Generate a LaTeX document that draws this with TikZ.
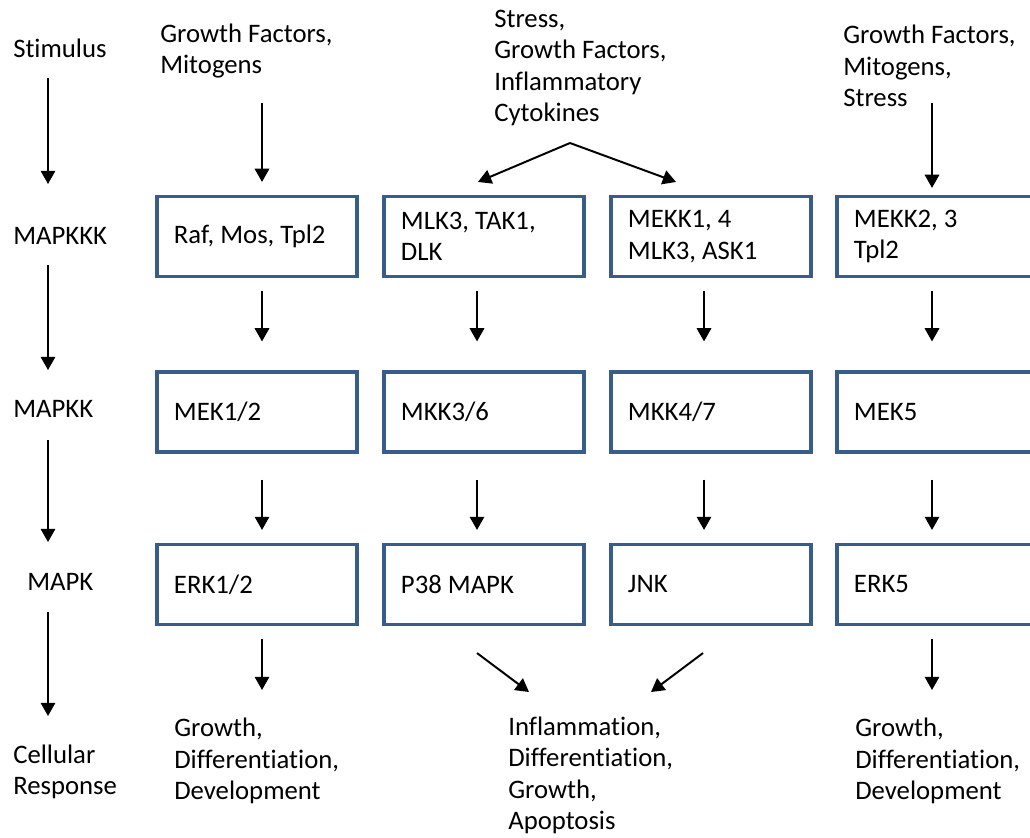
\documentclass[tikz,border=0pt]{standalone}
\usepackage{fontspec}
\setmainfont{Carlito}[Ligatures=NoCommon]
\usetikzlibrary{arrows.meta,calc}
\definecolor{boxblue}{RGB}{56,93,138}
\frenchspacing
\tikzset{
  txt/.style={font=\fontsize{19}{22.4}\selectfont, align=left, inner sep=0pt, anchor=west},
  kbox/.style={draw=boxblue, line width=2.2pt, minimum width=5cm, minimum height=2cm,
    text width=4.15cm, inner xsep=0.425cm, align=flush left, font=\fontsize{19}{22.4}\selectfont},
  arr/.style={-{Triangle[length=0.33cm,width=0.36cm]}, line width=1.4pt}
}
\begin{document}
\begin{tikzpicture}[x=0.025cm,y=-0.025cm]
\useasboundingbox (0,0) rectangle (1030,837);
% levels on the left
\node[txt] (stim) at (13,48) {Stimulus};
\node[txt] (kkk) at (13,236) {MAPKKK};
\node[txt] (kk) at (13,409) {MAPKK};
\node[txt] (k) at (27,582) {MAPK};
\node[txt] (resp) at (13,772) {Cellular\\Response};
\draw[arr] ($(stim.west)+(35,30)$) -- ($(kkk.west)+(35,-52)$);
\draw[arr] ($(kkk.west)+(35,29)$) -- ($(kk.west)+(35,-39)$);
\draw[arr] ($(kk.west)+(35,31)$) -- ($(k.west)+(21,-40)$);
\draw[arr] ($(k.west)+(21,30)$) -- ($(resp.west)+(35,-56)$);
% stimuli
\node[txt] (gfA) at (160,51) {Growth Factors,\\Mitogens};
\node[txt] (sgi) at (494,68) {Stress,\\Growth Factors,\\Inflammatory\\Cytokines};
\node[txt] (gfB) at (843,66) {Growth Factors,\\Mitogens,\\Stress};
% MAPKKK
\node[kbox] (raf) at (257,236.5) {Raf, Mos, Tpl2};
\node[kbox] (mlk) at (484,236.5) {MLK3, TAK1,\\DLK};
\node[kbox] (mekk) at (711,236.5) {MEKK1, 4\\MLK3, ASK1};
\node[kbox] (mekkb) at (937,236.5) {MEKK2, 3\\Tpl2};
% MAPKK
\node[kbox] (mek) at (257,412) {MEK1/2};
\node[kbox] (mkk36) at (484,412) {MKK3/6};
\node[kbox] (mkk47) at (711,412) {MKK4/7};
\node[kbox] (mek5) at (937,412) {MEK5};
% MAPK
\node[kbox] (erk) at (257,584.5) {ERK1/2};
\node[kbox] (p38) at (484,584.5) {P38 MAPK};
\node[kbox] (jnk) at (711,584.5) {JNK};
\node[kbox] (erk5) at (937,584.5) {ERK5};
% responses
\node[txt] (grA) at (174,761) {Growth,\\Differentiation,\\Development};
\node[txt] (infl) at (508,775.5) {Inflammation,\\Differentiation,\\Growth,\\Apoptosis};
\node[txt] (grB) at (855,761) {Growth,\\Differentiation,\\Development};
% stimulus to MAPKKK
\draw[arr] ($(gfA.west)+(102,52)$) -- ($(raf.north)+(5,-13)$);
\draw[arr] ($(sgi.west)+(76,75)$) -- ($(mlk.north)+(-6,-13)$);
\draw[arr] ($(sgi.west)+(76,75)$) -- ($(mekk.north)+(-35,-13)$);
\draw[arr] ($(gfB.west)+(89,37)$) -- ($(mekkb.north)+(-5,-7)$);
% MAPKKK to MAPKK
\draw[arr] ($(raf.south)+(5,13)$) -- ($(mek.north)+(5,-29)$);
\draw[arr] ($(mlk.south)+(-7,13)$) -- ($(mkk36.north)+(-7,-29)$);
\draw[arr] ($(mekk.south)+(-7,13)$) -- ($(mkk47.north)+(-7,-29)$);
\draw[arr] ($(mekkb.south)+(-5,13)$) -- ($(mek5.north)+(-5,-29)$);
% MAPKK to MAPK
\draw[arr] ($(mek.south)+(5,26)$) -- ($(erk.north)+(5,-13)$);
\draw[arr] ($(mkk36.south)+(-7,26)$) -- ($(p38.north)+(-7,-13)$);
\draw[arr] ($(mkk47.south)+(-7,26)$) -- ($(jnk.north)+(-7,-13)$);
\draw[arr] ($(mek5.south)+(-5,26)$) -- ($(erk5.north)+(-5,-13)$);
% MAPK to response
\draw[arr] ($(erk.south)+(5,13)$) -- ($(grA.west)+(88,-71)$);
\draw[arr] ($(p38.south)+(-7,27)$) -- ($(infl.west)+(21,-83.5)$);
\draw[arr] ($(jnk.south)+(-8,27)$) -- ($(infl.west)+(143,-83.5)$);
\draw[arr] ($(erk5.south)+(-5,13)$) -- ($(grB.west)+(77,-71)$);
\end{tikzpicture}
\end{document}
